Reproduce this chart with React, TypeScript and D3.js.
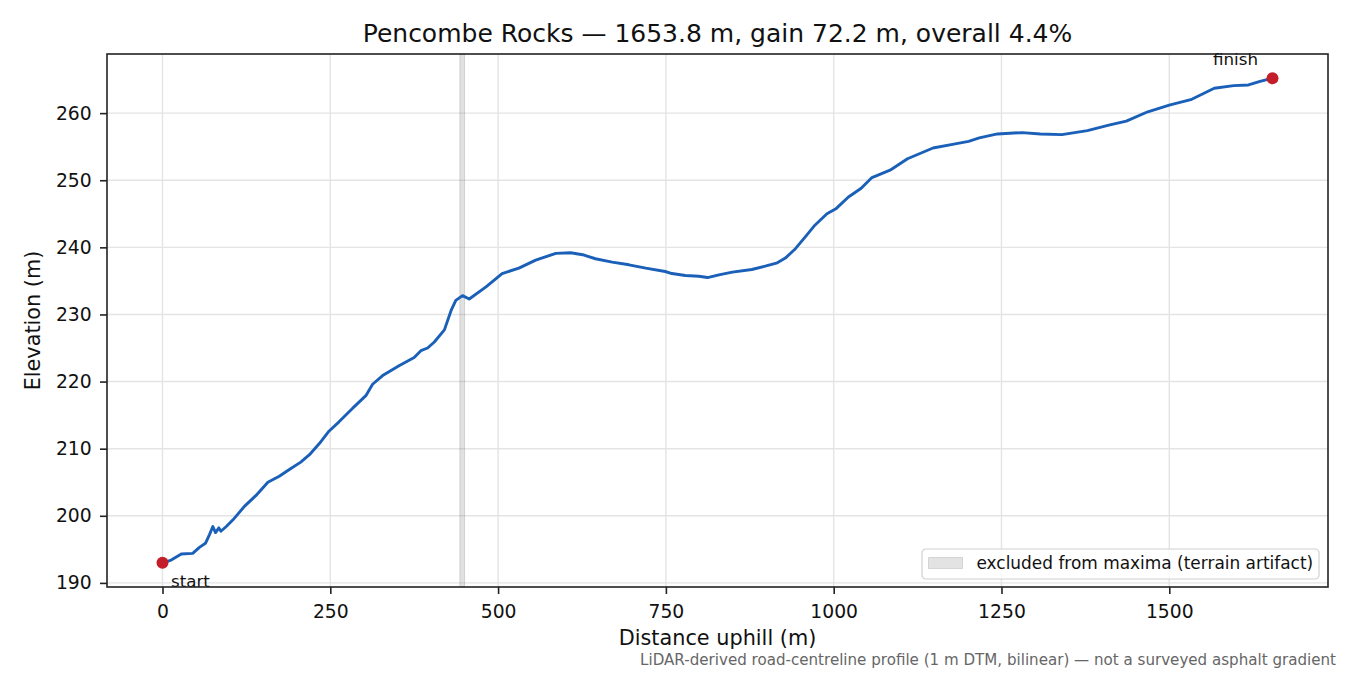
import React, { useEffect, useRef } from "react";
import * as d3 from "d3";

// Profile (distance along road, elevation)
const distances = [
  0, 13, 28, 45, 55, 64, 70, 75, 79, 84, 87, 95, 105, 122, 139, 157, 174, 189,
  206, 219, 234, 248, 263, 283, 303, 313, 328, 353, 375, 385, 395, 405, 420,
  430, 437, 447, 457, 482, 506, 531, 556, 586, 608, 626, 645, 670, 695, 720,
  749, 759, 779, 799, 812, 829, 849, 878, 898, 916, 928, 943, 958, 972, 990,
  1004, 1022, 1041, 1057, 1084, 1110, 1148, 1175, 1201, 1217, 1244, 1281, 1308,
  1340, 1378, 1410, 1436, 1468, 1500, 1532, 1567, 1596, 1618, 1634, 1653.8,
];
const elevations = [
  193.0, 193.4, 194.3, 194.4, 195.3, 195.9, 197.2, 198.4, 197.5, 198.2, 197.7,
  198.4, 199.4, 201.4, 203.0, 205.0, 205.9, 206.9, 208.0, 209.1, 210.8, 212.6,
  214.0, 216.0, 217.9, 219.6, 220.9, 222.4, 223.6, 224.6, 225.0, 225.9, 227.7,
  230.6, 232.1, 232.8, 232.3, 234.1, 236.1, 236.9, 238.1, 239.1, 239.2, 238.9,
  238.3, 237.8, 237.4, 236.9, 236.4, 236.1, 235.8, 235.7, 235.5, 235.9, 236.3,
  236.7, 237.2, 237.7, 238.4, 239.8, 241.6, 243.3, 245.0, 245.8, 247.5, 248.8,
  250.4, 251.5, 253.2, 254.8, 255.3, 255.8, 256.3, 256.9, 257.1, 256.9, 256.8,
  257.4, 258.2, 258.8, 260.2, 261.2, 262.0, 263.7, 264.1, 264.2, 264.7, 265.2,
];
const excludedSpan = [443, 450];
const xTicks = [0, 250, 500, 750, 1000, 1250, 1500];
const yTicks = [190, 200, 210, 220, 230, 240, 250, 260];

const titleText = "Pencombe Rocks — 1653.8 m, gain 72.2 m, overall 4.4%";
const legendText = "excluded from maxima (terrain artifact)";
const footText =
  "LiDAR-derived road-centreline profile (1 m DTM, bilinear) — not a surveyed asphalt gradient";

const width = 1350;
const height = 675;
const font = "DejaVu Sans, sans-serif";

export default function App() {
  const svgRef = useRef<SVGSVGElement>(null);

  useEffect(() => {
    document.body.style.margin = "0";
    if (!svgRef.current) return;
    const svg = d3.select(svgRef.current);
    svg.selectAll("*").remove();

    const margin = { top: 54, right: 22, bottom: 88, left: 107 };
    const innerW = width - margin.left - margin.right;
    const innerH = height - margin.top - margin.bottom;

    // matplotlib-like 5% padding around the data
    const xPad = (d3.max(distances)! - d3.min(distances)!) * 0.05;
    const yPad = (d3.max(elevations)! - d3.min(elevations)!) * 0.05;
    const x = d3
      .scaleLinear()
      .domain([d3.min(distances)! - xPad, d3.max(distances)! + xPad])
      .range([0, innerW]);
    const y = d3
      .scaleLinear()
      .domain([d3.min(elevations)! - yPad, d3.max(elevations)! + yPad])
      .range([innerH, 0]);

    const g = svg
      .append("g")
      .attr("transform", `translate(${margin.left},${margin.top})`);

    // grid
    g.append("g")
      .selectAll("line")
      .data(xTicks)
      .join("line")
      .attr("x1", (d) => x(d))
      .attr("x2", (d) => x(d))
      .attr("y1", 0)
      .attr("y2", innerH)
      .attr("stroke", "#e4e4e4")
      .attr("stroke-width", 1.4);
    g.append("g")
      .selectAll("line")
      .data(yTicks)
      .join("line")
      .attr("x1", 0)
      .attr("x2", innerW)
      .attr("y1", (d) => y(d))
      .attr("y2", (d) => y(d))
      .attr("stroke", "#e4e4e4")
      .attr("stroke-width", 1.4);

    // excluded band
    g.append("rect")
      .attr("x", x(excludedSpan[0]))
      .attr("width", x(excludedSpan[1]) - x(excludedSpan[0]))
      .attr("y", 0)
      .attr("height", innerH)
      .attr("fill", "#808080")
      .attr("fill-opacity", 0.24)
      .attr("stroke", "#808080")
      .attr("stroke-opacity", 0.28)
      .attr("stroke-width", 1);

    // profile line
    const points = distances.map((d, i) => [d, elevations[i]] as [number, number]);
    const line = d3
      .line<[number, number]>()
      .x((d) => x(d[0]))
      .y((d) => y(d[1]));
    g.append("path")
      .datum(points)
      .attr("d", line)
      .attr("fill", "none")
      .attr("stroke", "#1a5fb8")
      .attr("stroke-width", 2.9)
      .attr("stroke-linejoin", "round")
      .attr("stroke-linecap", "round");

    // start / finish markers
    const first = points[0];
    const last = points[points.length - 1];
    g.selectAll("circle.end")
      .data([first, last])
      .join("circle")
      .attr("class", "end")
      .attr("cx", (d) => x(d[0]))
      .attr("cy", (d) => y(d[1]))
      .attr("r", 6)
      .attr("fill", "#c41e2a");

    g.append("text")
      .attr("x", x(first[0]) + 8.5)
      .attr("y", y(first[1]) + 24)
      .attr("font-family", font)
      .attr("font-size", 16.7)
      .attr("fill", "#111")
      .text("start");
    g.append("text")
      .attr("x", x(last[0]) - 14.5)
      .attr("y", y(last[1]) - 13)
      .attr("text-anchor", "end")
      .attr("font-family", font)
      .attr("font-size", 16.7)
      .attr("fill", "#111")
      .text("finish");

    // axes
    const xAxis = g
      .append("g")
      .attr("transform", `translate(0,${innerH})`)
      .call(
        d3
          .axisBottom(x)
          .tickValues(xTicks)
          .tickFormat(d3.format("d"))
          .tickSize(7)
          .tickSizeOuter(0)
          .tickPadding(10.5),
      );
    const yAxis = g
      .append("g")
      .call(
        d3
          .axisLeft(y)
          .tickValues(yTicks)
          .tickFormat(d3.format("d"))
          .tickSize(7)
          .tickSizeOuter(0)
          .tickPadding(8.3),
      );
    [xAxis, yAxis].forEach((ax) => {
      ax.select(".domain").remove();
      ax.selectAll(".tick line").attr("stroke", "#222").attr("stroke-width", 1.6);
      ax.selectAll(".tick text")
        .attr("font-family", font)
        .attr("font-size", 18.75)
        .attr("fill", "#111");
    });

    // frame
    g.append("rect")
      .attr("width", innerW)
      .attr("height", innerH)
      .attr("fill", "none")
      .attr("stroke", "#222")
      .attr("stroke-width", 1.6);

    // legend
    const lg = g.append("g").attr("transform", `translate(${922 - margin.left},${549 - margin.top})`);
    lg.append("rect")
      .attr("width", 397)
      .attr("height", 30)
      .attr("rx", 4)
      .attr("fill", "white")
      .attr("fill-opacity", 0.8)
      .attr("stroke", "#d0d0d0")
      .attr("stroke-width", 1.2);
    lg.append("rect")
      .attr("x", 6.5)
      .attr("y", 8.5)
      .attr("width", 34)
      .attr("height", 11)
      .attr("fill", "#808080")
      .attr("fill-opacity", 0.22)
      .attr("stroke", "#808080")
      .attr("stroke-opacity", 0.25);
    lg.append("text")
      .attr("x", 54.5)
      .attr("y", 19.5)
      .attr("font-family", font)
      .attr("font-size", 16.95)
      .attr("fill", "#111")
      .text(legendText);

    // titles
    svg
      .append("text")
      .attr("x", margin.left + innerW / 2)
      .attr("y", 42)
      .attr("text-anchor", "middle")
      .attr("font-family", font)
      .attr("font-size", 25)
      .attr("fill", "#111")
      .text(titleText);
    svg
      .append("text")
      .attr("x", margin.left + innerW / 2)
      .attr("y", 645)
      .attr("text-anchor", "middle")
      .attr("font-family", font)
      .attr("font-size", 20.8)
      .attr("fill", "#111")
      .text("Distance uphill (m)");
    svg
      .append("text")
      .attr("transform", `translate(40,${margin.top + innerH / 2}) rotate(-90)`)
      .attr("text-anchor", "middle")
      .attr("font-family", font)
      .attr("font-size", 20.8)
      .attr("fill", "#111")
      .text("Elevation (m)");
    svg
      .append("text")
      .attr("x", 1336)
      .attr("y", 665)
      .attr("text-anchor", "end")
      .attr("font-family", font)
      .attr("font-size", 15.1)
      .attr("fill", "#666")
      .text(footText);
  }, []);

  return (
    <svg
      ref={svgRef}
      width={width}
      height={height}
      style={{ display: "block", background: "white" }}
    />
  );
}
